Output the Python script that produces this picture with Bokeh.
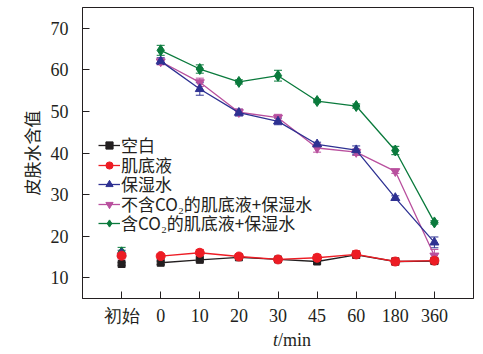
from bokeh.plotting import figure
from bokeh.layouts import column
from bokeh.models import ColumnDataSource, Whisker, Legend, LegendItem, FixedTicker, Range1d
from bokeh.core.properties import value
from bokeh.embed import file_html
from bokeh.resources import INLINE

categories = ["初始", "0", "10", "20", "30", "45", "60", "180", "360"]

blank = [13.3, 13.6, 14.3, 14.9, 14.4, 13.9, 15.5, 13.9, 14.0]
blank_err = [0.3, 0.4, 0.4, 0.4, 0.3, 0.4, 0.4, 0.6, 0.5]
serum = [15.3, 15.2, 16.0, 15.1, 14.4, 14.8, 15.6, 13.9, 14.1]
serum_err = [0.5, 0.5, 0.8, 0.5, 0.4, 0.8, 0.9, 0.9, 0.8]
toner = [15.8, 62.1, 55.4, 49.7, 47.6, 42.1, 40.7, 29.2, 18.5]
toner_err = [0.8, 0.8, 1.5, 0.8, 0.8, 0.5, 1.0, 0.5, 1.3]
noco2 = [15.3, 62.0, 57.0, 49.8, 48.5, 41.2, 40.2, 35.6, 15.3]
noco2_err = [0.8, 0.8, 1.0, 0.8, 0.8, 1.0, 0.8, 0.5, 1.5]
co2 = [16.1, 64.7, 60.2, 57.1, 58.6, 52.5, 51.3, 40.6, 23.3]
co2_err = [1.2, 1.2, 1.0, 0.5, 1.3, 0.4, 0.5, 1.0, 0.4]

labels = ["空白", "肌底液", "保湿水", "不含CO₂的肌底液+保湿水", "含CO₂的肌底液+保湿水"]
colors = ["#231f20", "#ed1c24", "#2e3192", "#b9509e", "#0a7a3c"]
markers = ["square", "circle", "triangle", "inverted_triangle", "diamond"]
msizes = [7, 9, 9, 9, 11]

series = [blank, serum, toner, noco2, co2]
errs = [blank_err, serum_err, toner_err, noco2_err, co2_err]

p = figure(width=483, height=328, output_backend="svg", toolbar_location=None,
           x_range=Range1d(-1, 9), y_range=Range1d(5, 75),
           min_border_left=82, min_border_right=10, min_border_top=7, min_border_bottom=26)
p.grid.visible = False
p.outline_line_color = "#231f20"
p.outline_line_width = 1
p.background_fill_color = "white"

xs = list(range(len(categories)))
draw_order = [4, 3, 2, 0, 1]
rend = {}
for i in draw_order:
    ys = series[i]
    src = ColumnDataSource(dict(x=xs[1:], y=ys[1:],
                                lo=[a - b for a, b in zip(ys[1:], errs[i][1:])],
                                hi=[a + b for a, b in zip(ys[1:], errs[i][1:])]))
    src0 = ColumnDataSource(dict(x=[0], y=[ys[0]], lo=[ys[0] - errs[i][0]], hi=[ys[0] + errs[i][0]]))
    for s in (src, src0):
        w = Whisker(source=s, base="x", lower="lo", upper="hi", line_color=colors[i], line_width=1)
        w.upper_head.line_color = colors[i]
        w.lower_head.line_color = colors[i]
        w.upper_head.size = 8
        w.lower_head.size = 8
        p.add_layout(w)
    l = p.line("x", "y", source=src, line_color=colors[i], line_width=1.3)
    m = p.scatter("x", "y", source=src, marker=markers[i], size=msizes[i],
                  fill_color=colors[i], line_color=colors[i])
    p.scatter("x", "y", source=src0, marker=markers[i], size=msizes[i],
              fill_color=colors[i], line_color=colors[i])
    rend[i] = [l, m]

# one legend per row so that row spacing is exact
row_top = [143, 163, 182, 202, 221]  # pixel centres from canvas top (layout only)
for i in range(5):
    lg = Legend(items=[LegendItem(label=labels[i], renderers=rend[i])],
                location=(16, 302 - row_top[i] - 18), background_fill_alpha=0, border_line_alpha=0,
                label_text_font="Noto Sans CJK SC", label_text_font_size="17px",
                label_text_color="#231f20", glyph_width=22, glyph_height=18, label_height=18,
                spacing=0, padding=0, margin=0, label_standoff=1, label_text_baseline="middle")
    p.add_layout(lg)

p.xaxis.ticker = FixedTicker(ticks=xs)
p.xaxis.major_label_overrides = {i: c for i, c in enumerate(categories)}
for ax in (p.xaxis[0], p.yaxis[0]):
    ax.major_tick_in = 7
    ax.major_tick_out = 0
    ax.minor_tick_line_color = None
    ax.axis_line_color = "#231f20"
    ax.major_tick_line_color = "#231f20"
    ax.major_label_text_color = "#231f20"
    ax.major_label_text_font_size = "18px"
    ax.major_label_text_font = "Liberation Serif"
p.xaxis.major_label_standoff = 7
p.yaxis.ticker = FixedTicker(ticks=[10, 20, 30, 40, 50, 60, 70])
p.yaxis.major_label_standoff = 14
p.yaxis.axis_label = "皮肤水含值"
p.yaxis.axis_label_text_font = "Noto Sans CJK SC"
p.yaxis.axis_label_text_font_style = "normal"
p.yaxis.axis_label_text_font_size = "17px"
p.yaxis.axis_label_text_color = "#231f20"
p.yaxis.axis_label_standoff = 4

# strip below the chart for the x axis title
p2 = figure(width=483, height=26, output_backend="svg", toolbar_location=None,
            x_range=p.x_range, y_range=Range1d(0, 1),
            min_border_left=82, min_border_right=10, min_border_top=0, min_border_bottom=0)
p2.axis.visible = False
p2.grid.visible = False
p2.outline_line_color = None
p2.text(x=[4.0], y=[0.55], text=["t"], text_font=value("Liberation Serif"), text_font_style="italic",
        text_font_size="18px", text_color="#231f20", text_align="right", text_baseline="middle")
p2.text(x=[4.0], y=[0.55], text=["/min"], text_font=value("Liberation Serif"),
        text_font_size="18px", text_color="#231f20", text_align="left", text_baseline="middle")

layout = column(p, p2, spacing=0)
open("out.html", "w").write(file_html(layout, INLINE))
